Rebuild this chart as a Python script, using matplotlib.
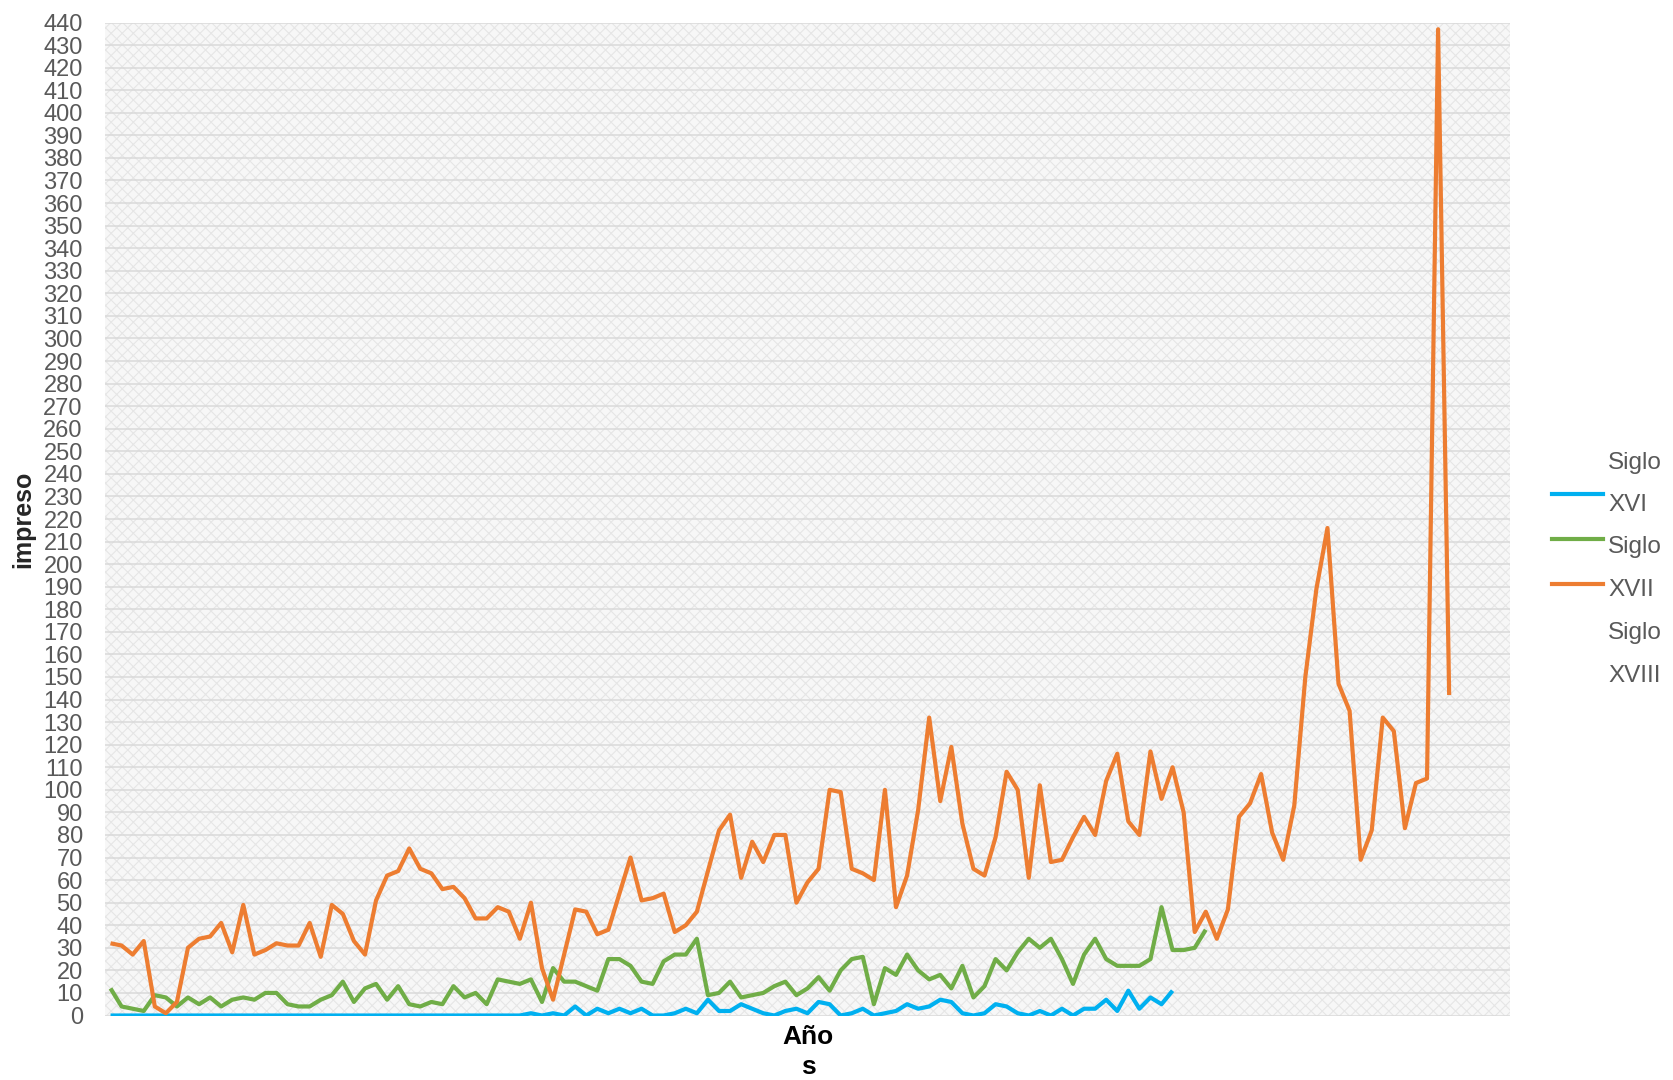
import matplotlib
matplotlib.use("Agg")
import matplotlib.pyplot as plt
from matplotlib.patches import Rectangle
from matplotlib.lines import Line2D
import numpy as np

plt.rcParams['font.family'] = ['Liberation Sans', 'DejaVu Sans']
plt.rcParams['hatch.linewidth'] = 0.8
plt.rcParams['hatch.color'] = '#e6e6e6'

n_categories = 127

siglo_xvi = [0] * 38 + [
    1, 0, 1, 0, 4, 0, 3, 1, 3, 1, 3, 0, 0, 1, 3, 1, 7, 2, 2, 5,
    3, 1, 0, 2, 3, 1, 6, 5, 0, 1, 3, 0, 1, 2, 5, 3, 4, 7, 6, 1,
    0, 1, 5, 4, 1, 0, 2, 0, 3, 0, 3, 3, 7, 2, 11, 3, 8, 5, 11]

siglo_xvii = [
    12, 4, 3, 2, 9, 8, 4, 8, 5, 8, 4, 7, 8, 7, 10, 10, 5, 4, 4, 7,
    9, 15, 6, 12, 14, 7, 13, 5, 4, 6, 5, 13, 8, 10, 5, 16, 15, 14, 16, 6,
    21, 15, 15, 13, 11, 25, 25, 22, 15, 14, 24, 27, 27, 34, 9, 10, 15, 8, 9, 10,
    13, 15, 9, 12, 17, 11, 20, 25, 26, 5, 21, 18, 27, 20, 16, 18, 12, 22, 8, 13,
    25, 20, 28, 34, 30, 34, 25, 14, 27, 34, 25, 22, 22, 22, 25, 48, 29, 29, 30, 38]

siglo_xviii = [
    32, 31, 27, 33, 4, 1, 6, 30, 34, 35, 41, 28, 49, 27, 29, 32, 31, 31, 41, 26,
    49, 45, 33, 27, 51, 62, 64, 74, 65, 63, 56, 57, 52, 43, 43, 48, 46, 34, 50, 21,
    7, 27, 47, 46, 36, 38, 54, 70, 51, 52, 54, 37, 40, 46, 64, 82, 89, 61, 77, 68,
    80, 80, 50, 59, 65, 100, 99, 65, 63, 60, 100, 48, 62, 91, 132, 95, 119, 85, 65, 62,
    79, 108, 100, 61, 102, 68, 69, 79, 88, 80, 104, 116, 86, 80, 117, 96, 110, 90, 37, 46,
    34, 47, 88, 94, 107, 81, 69, 93, 150, 189, 216, 147, 135, 69, 82, 132, 126, 83, 103, 105,
    437, 142]

series = [
    (siglo_xvi, '#00b0f0'),
    (siglo_xvii, '#70ad47'),
    (siglo_xviii, '#ed7d31'),
]

fig = plt.figure(figsize=(16.73, 10.80), dpi=100)
ax = fig.add_axes([105 / 1673, 64.5 / 1080, 1405 / 1673, 993 / 1080])

# textured plot area
ax.set_facecolor('#f7f7f7')
ax.add_patch(Rectangle((0, 0), 1, 1, transform=ax.transAxes, facecolor='none',
                       hatch='xxx', edgecolor='#e6e6e6', linewidth=0, zorder=0))

for values, color in series:
    ax.plot(np.arange(len(values)), values, color=color, lw=3.0,
            solid_joinstyle='round', solid_capstyle='butt', zorder=3)

ax.set_xlim(-0.5, n_categories - 0.5)
ax.set_ylim(0, 440)
ax.set_yticks(np.arange(0, 441, 10))
ax.set_xticks([])
ax.yaxis.grid(True, color='#d9d9d9', lw=1.1, zorder=1)
ax.set_axisbelow(True)
for s in ax.spines.values():
    s.set_visible(False)
ax.tick_params(axis='y', length=0, pad=16, labelsize=17, labelcolor='#595959')

# axis titles
fig.text(23.5 / 1673, 1 - 519 / 1080, 'impreso', rotation=90, fontsize=18,
         fontweight='bold', color='#262626', ha='center', va='center')
fig.text(808 / 1673, 1 - 1037 / 1080, 'Año', fontsize=19, fontweight='bold',
         color='#000000', ha='center', va='center')
fig.text(808 / 1673, 1 - 1067 / 1080, 's', fontsize=19, fontweight='bold',
         color='#000000', ha='center', va='center')

# legend (wrapped entries as in the original)
legend_text = ['Siglo', 'XVI', 'Siglo', 'XVII', 'Siglo', 'XVIII']
text_y = [463, 505, 547, 590, 633, 676]
for t, y in zip(legend_text, text_y):
    fig.text(1608 / 1673, 1 - y / 1080, t, fontsize=17.5, color='#595959',
             ha='left', va='center')
for (values, color), y in zip(series, [494, 539, 584]):
    fig.add_artist(Line2D([1552 / 1673, 1603 / 1673], [1 - y / 1080, 1 - y / 1080],
                          color=color, lw=3.0, transform=fig.transFigure))

fig.savefig('out.png', dpi=100)
